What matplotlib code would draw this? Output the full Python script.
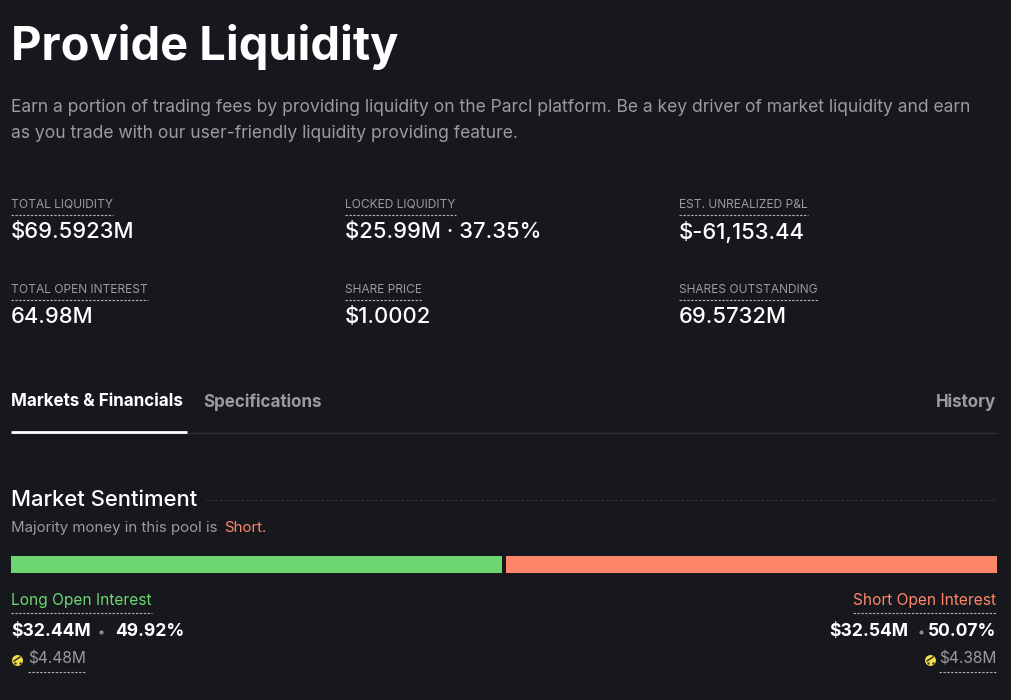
import matplotlib
matplotlib.use("Agg")
import matplotlib.pyplot as plt

# colours
bg = "#17181d"
white = "#ffffff"
grey = "#9a9b9f"
green = "#6dd673"
orange = "#ff8669"

# data
stat_labels = ["TOTAL LIQUIDITY", "LOCKED LIQUIDITY", "EST. UNREALIZED P&L",
               "TOTAL OPEN INTEREST", "SHARE PRICE", "SHARES OUTSTANDING"]
stat_values = ["$69.5923M", "$25.99M · 37.35%", "$-61,153.44",
               "64.98M", "$1.0002", "69.5732M"]
sentiment_pct = [49.92, 50.07]
sentiment_names = ["Long Open Interest", "Short Open Interest"]
sentiment_usd = ["$32.44M", "$32.54M"]
sentiment_sub = ["$4.48M", "$4.38M"]

plt.rcParams["font.family"] = ["Inter", "DejaVu Sans"]

W, H = 1011, 700
fig = plt.figure(figsize=(W / 100, H / 100), dpi=100, facecolor=bg)
ax = fig.add_axes([0, 0, 1, 1])
ax.set_xlim(0, W)
ax.set_ylim(H, 0)
ax.axis("off")


def px(size):
    # css px to points
    return size * 72 / 100


def label(x, y, s, size, color, weight="normal", ha="left"):
    return ax.text(x, y, s, fontsize=px(size), color=color, fontweight=weight,
                   ha=ha, va="center")


def dashed_under(t, y):
    bb = t.get_window_extent(fig.canvas.get_renderer())
    ax.plot([bb.x0, bb.x1], [y, y], color="#b0b0b3", lw=0.8,
            dashes=(2.2, 1.3), solid_capstyle="butt")


# header
label(11, 47, "Provide Liquidity", 47, white, "bold")
label(11, 108, "Earn a portion of trading fees by providing liquidity on the Parcl platform. Be a key driver of market liquidity and earn",
      17.5, grey)
label(11, 134, "as you trade with our user-friendly liquidity providing feature.", 17.5, grey)

# stats grid
col_x = [11, 345, 679]
row_y = [205, 290]
for i, (name, val) in enumerate(zip(stat_labels, stat_values)):
    x = col_x[i % 3]
    y = row_y[i // 3]
    t = label(x, y, name, 12, grey)
    dashed_under(t, y + 10)
    label(x, y + 27, val, 22, white, "medium")

# tabs
label(11, 402, "Markets & Financials", 17, white, "bold")
label(203, 402, "Specifications", 17, grey, "bold")
label(996, 402, "History", 17, grey, "bold", ha="right")
ax.plot([11, 996], [433, 433], color="#2e2f34", lw=1)
ax.plot([11, 187], [432, 432], color=white, lw=2, solid_capstyle="butt")

# sentiment heading
label(11, 500, "Market Sentiment", 22, white, "medium")
ax.plot([206, 996], [500, 500], color="#33343a", lw=0.8, dashes=(2, 2))
t1 = label(11, 528, "Majority money in this pool is ", 15, grey)
fig.canvas.draw()
bb = t1.get_window_extent(fig.canvas.get_renderer())
label(bb.x1 + 2, 528, "Short.", 15, orange)

# sentiment bar, on its own axes so the widths come from the percentages
bar_ax = fig.add_axes([11 / W, 1 - 573 / H, 986 / W, 17 / H])
bar_ax.set_xlim(0, sum(sentiment_pct))
bar_ax.set_ylim(0, 1)
bar_ax.axis("off")
bar_ax.barh(0.5, sentiment_pct[0], height=1, left=0, color=green,
            edgecolor="none")
bar_ax.barh(0.5, sentiment_pct[1], height=1, left=sentiment_pct[0], color=orange,
            edgecolor="none")
bar_ax.axvline(sentiment_pct[0] + 0.1, color=bg, lw=2.9)


def gauge(x, y):
    ax.scatter([x], [y], s=62, color="#f7de4f", zorder=3, linewidths=0)
    ax.plot([x - 3, x + 3], [y + 1, y - 3], color="#3a3320", lw=1.1, zorder=4)
    ax.scatter([x - 2.5, x + 2.5], [y + 2.5, y + 2.5], s=3, color="#3a3320",
               zorder=4, linewidths=0)


# left block
t = label(11, 601, sentiment_names[0], 15.5, green)
dashed_under(t, 613)
label(11, 631, sentiment_usd[0], 17.5, white, "bold")
ax.scatter([101], [632], s=9, color="#8b8c90", linewidths=0)
label(115, 631, f"{sentiment_pct[0]:.2f}%", 17.5, white, "bold")
gauge(17, 660)
t = label(28, 659, sentiment_sub[0], 15.5, grey)
dashed_under(t, 672)

# right block
t = label(996, 601, sentiment_names[1], 15.5, orange, ha="right")
dashed_under(t, 613)
label(996, 631, f"{sentiment_pct[1]:.2f}%", 17.5, white, "bold", ha="right")
ax.scatter([921], [632], s=9, color="#8b8c90", linewidths=0)
label(908, 631, sentiment_usd[1], 17.5, white, "bold", ha="right")
gauge(930, 660)
t = label(996, 659, sentiment_sub[1], 15.5, grey, ha="right")
dashed_under(t, 672)

fig.savefig("out.png", dpi=100, facecolor=bg)
